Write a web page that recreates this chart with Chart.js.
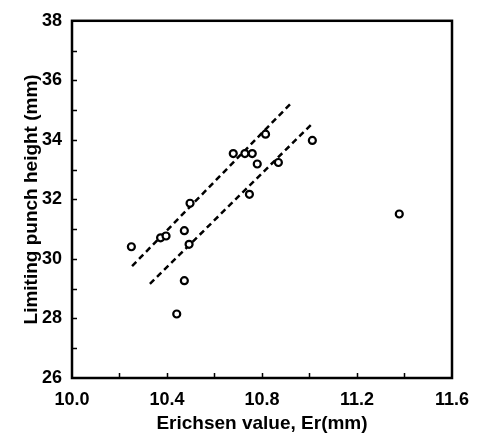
<!DOCTYPE html>
<html lang="en">
<head>
  <meta charset="UTF-8" />
  <title>Limiting punch height vs Erichsen value</title>
  <script src="https://cdn.jsdelivr.net/npm/chart.js"></script>
  <style>
    html, body { margin: 0; padding: 0; background: #fff; overflow: hidden; }
  </style>
</head>
<body>
  <canvas id="chart" width="486" height="441"></canvas>

  <script>
    // measured points (Erichsen value, limiting punch height)
    const erichsen = [10.25, 10.373, 10.396, 10.473, 10.493, 10.473, 10.441, 10.497,
                      10.679, 10.728, 10.759, 10.78, 10.747, 10.815, 10.869, 11.012, 11.378];
    const punchHeight = [30.41, 30.71, 30.77, 30.95, 30.49, 29.27, 28.15, 31.87,
                         33.54, 33.54, 33.54, 33.19, 32.17, 34.19, 33.24, 33.98, 31.51];

    // dashed band lines (end points)
    const upperX = [10.253, 10.921];
    const upperY = [29.76, 35.22];
    const lowerX = [10.328, 11.011];
    const lowerY = [29.16, 34.54];

    const xMin = 10.0, xMax = 11.6, xStep = 0.2;
    const yMin = 26, yMax = 38, yStep = 1;

    const pts = (xs, ys) => xs.map((x, i) => ({ x: x, y: ys[i] }));
    const font = 'Arial, "Liberation Sans", Helvetica, sans-serif';

    // frame and inward ticks
    const frame = {
      id: 'frame',
      afterDraw(chart) {
        const { ctx, chartArea: a, scales: { x, y } } = chart;
        ctx.save();
        ctx.strokeStyle = '#000';
        ctx.lineWidth = 2.5;
        ctx.strokeRect(a.left, a.top, a.right - a.left, a.bottom - a.top);
        ctx.lineWidth = 1.5;
        ctx.beginPath();
        for (let v = xMin + xStep; v < xMax - 1e-6; v += xStep) {
          const px = Math.round(x.getPixelForValue(v)) + 0.5;
          ctx.moveTo(px, a.bottom);
          ctx.lineTo(px, a.bottom - 5);
        }
        for (let v = yMin + yStep; v < yMax - 1e-6; v += yStep) {
          const py = Math.round(y.getPixelForValue(v)) + 0.5;
          ctx.moveTo(a.left, py);
          ctx.lineTo(a.left + 5, py);
        }
        ctx.stroke();
        ctx.restore();
      }
    };

    new Chart(document.getElementById('chart'), {
      type: 'scatter',
      data: {
        datasets: [
          {
            data: pts(erichsen, punchHeight),
            pointStyle: 'circle',
            pointRadius: 3.5,
            pointBorderWidth: 2.2,
            pointBackgroundColor: '#fff',
            pointBorderColor: '#000',
            order: 0
          },
          {
            type: 'line',
            data: pts(upperX, upperY),
            borderColor: '#000',
            borderWidth: 2.5,
            borderDash: [6, 4],
            pointRadius: 0,
            order: 1
          },
          {
            type: 'line',
            data: pts(lowerX, lowerY),
            borderColor: '#000',
            borderWidth: 2.5,
            borderDash: [6, 4],
            pointRadius: 0,
            order: 1
          }
        ]
      },
      options: {
        responsive: false,
        animation: false,
        layout: { padding: { top: 14, right: 34, left: 0, bottom: 0 } },
        plugins: { legend: { display: false }, tooltip: { enabled: false } },
        scales: {
          x: {
            type: 'linear',
            min: xMin,
            max: xMax,
            grid: { display: false, drawTicks: false },
            border: { display: false },
            afterFit: s => { s.height = 63; },
            ticks: {
              stepSize: 0.4,
              padding: 11,
              color: '#000',
              font: { family: font, size: 18, weight: 'bold' },
              callback: v => v.toFixed(1)
            },
            title: {
              display: true,
              text: 'Erichsen value, Er(mm)',
              color: '#000',
              font: { family: font, size: 19, weight: 'bold' },
              padding: { top: 0, bottom: 6 }
            }
          },
          y: {
            min: yMin,
            max: yMax,
            grid: { display: false, drawTicks: false },
            border: { display: false },
            afterFit: s => { s.width = 72; },
            ticks: {
              stepSize: 2,
              padding: 10,
              color: '#000',
              font: { family: font, size: 18, weight: 'bold' },
              callback: v => v
            },
            title: {
              display: true,
              text: 'Limiting punch height (mm)',
              color: '#000',
              font: { family: font, size: 19, weight: 'bold' },
              padding: { top: 20, bottom: 0 }
            }
          }
        }
      },
      plugins: [frame]
    });
  </script>
</body>
</html>
